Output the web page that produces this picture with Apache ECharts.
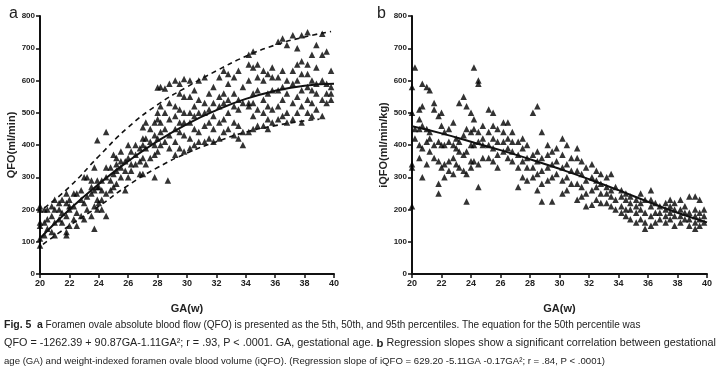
<!DOCTYPE html>
<html><head><meta charset="utf-8">
<script src="https://cdn.jsdelivr.net/npm/echarts@6/dist/echarts.min.js"></script>
<style>html,body{margin:0;padding:0;background:#fff}#c{width:720px;height:386px}</style>
</head><body><div id="c"></div>
<script>
// Tick labels
const xTicks = [20,22,24,26,28,30,32,34,36,38,40];
const yTicks = [0,100,200,300,400,500,600,700,800];

// Panel a: QFO scatter, grouped by GA (weeks) -> observed values
const qfoPoints = [
 [20.0,[88,110,150,160,200,210]],[20.3,[120,160,200]],[20.5,[140,170,200]],[20.8,[130,180,210]],[21.0,[120,160,200,230]],
 [21.3,[170,200,220]],[21.5,[160,190,230]],[21.8,[120,130,180,220,250]],[22.0,[150,200,210,230]],
 [22.3,[170,210,250]],[22.5,[150,190,250]],[22.8,[180,230,260]],[23.0,[170,220,300]],
 [23.2,[200,240,300]],[23.5,[180,250,270,290]],[23.7,[140,210,260,330]],[23.9,[200,230,270,290,415]],[24.0,[220,270]],
 [24.2,[200,230,260,290]],[24.5,[180,250,300,330,440]],[24.8,[260,290,330]],[25.0,[270,310,370]],
 [25.2,[280,320,340,360]],[25.5,[300,330,350,380]],[25.8,[260,320,350]],[26.0,[300,360,400]],
 [26.2,[320,340,380]],[26.5,[340,370,400]],[26.8,[310,350,390]],[27.0,[310,360,400,420,455]],
 [27.2,[340,390,420,470]],[27.5,[360,410,450]],[27.8,[300,370,400,430,470]],[28.0,[380,420,480,500,578]],
 [28.2,[400,440,470,520,580]],[28.5,[410,450,500,575]],[28.7,[290]],[28.8,[390,430,480,530,590]],
 [29.2,[370,410,450,490,520,600]],[29.5,[390,440,470,510,560,590]],[29.8,[380,430,470,500,550,605]],
 [30.2,[390,420,470,500,550,600]],[30.5,[400,450,490,520,570]],[30.8,[410,440,500,540,600]],
 [31.2,[410,460,500,530,610]],[31.5,[420,470,510,560]],[31.8,[410,450,490,530,580]],
 [32.2,[420,470,520,550,610]],[32.5,[440,480,530,560,630]],[32.8,[450,500,540,590,620]],
 [33.2,[430,470,520,560,610]],[33.5,[420,460,510,540,630]],[33.8,[400,440,530,580]],
 [34.2,[440,520,530,600,650,680]],[34.5,[450,490,530,560,640,690]],[34.8,[460,510,570,610,650]],
 [35.2,[460,500,540,600,630]],[35.5,[450,480,520,560,620]],[35.8,[470,510,570,610,640]],
 [36.2,[480,520,570,610,720]],[36.5,[490,540,580,630,730]],[36.8,[470,500,560,600,710]],
 [37.2,[480,530,590,630,740]],[37.5,[500,550,600,650,700]],[37.8,[470,520,570,620,660,740]],
 [38.2,[500,540,580,620,650,750]],[38.5,[490,530,570,600,680]],[38.8,[510,560,590,640,710]],
 [39.2,[490,540,600,680,745]],[39.5,[530,560,590,690]],[39.8,[540,560,580,630]]
];
// Percentile curves
const qfoP50 = [[20,111],[22,200],[24,279],[26,350],[28,412],[30,465],[32,508],[34,543],[36,568],[38,584],[40,590]];
const qfoP95 = [[20.3,205],[22,270],[24,365],[26,455],[28,525],[30,580],[32,630],[34,675],[36,710],[38,735],[39.8,752]];
const qfoP5  = [[20.2,92],[22,150],[24,210],[26,275],[28,330],[30,375],[32,410],[34,440],[36,460],[38,475],[39,480]];

// Panel b: iQFO scatter
const iqfoPoints = [
 [20.0,[210,330,340,500,580]],[20.2,[420,450,640]],[20.5,[360,400,450,480,510]],[20.7,[300,390,460,520,590]],[21.0,[340,410,450,580]],
 [21.2,[380,420,440,570]],[21.5,[360,400,510,530]],[21.8,[250,280,350,410,490]],[22.0,[330,400,460,500]],
 [22.2,[300,340,400,440]],[22.5,[320,350,410,450]],[22.8,[310,360,400,470]],[23.0,[340,390,420]],
 [23.2,[330,380,410,530]],[23.5,[320,370,430,550]],[23.7,[225,310,380,450,520]],[24.0,[330,350,400,440,500]],
 [24.2,[350,400,450,480,640]],[24.5,[270,340,410,440,590,600]],[24.8,[360,400,420,460]],
 [25.2,[360,400,440,510]],[25.5,[350,390,420,460,500]],[25.8,[330,370,410,450]],
 [26.2,[380,410,440,470]],[26.5,[360,390,420,470]],[26.8,[350,380,410,440]],
 [27.2,[270,330,370,410]],[27.5,[300,350,390,420]],[27.8,[290,330,360,400]],
 [28.2,[300,330,370,500]],[28.5,[260,310,350,380,520]],[28.8,[225,280,320,360,440]],
 [29.2,[290,330,370,400]],[29.5,[225,300,340,380]],[29.8,[310,350,390]],
 [30.2,[250,290,330,370,420]],[30.5,[260,300,340,400]],[30.8,[280,320,360]],
 [31.2,[230,280,320,360,390]],[31.5,[240,270,310,350]],[31.8,[210,250,290,330]],
 [32.2,[215,260,300,340]],[32.5,[230,270,290,320]],[32.8,[220,250,280,310]],
 [33.2,[220,250,270,300]],[33.5,[210,240,260,310]],[33.8,[200,230,270]],
 [34.2,[190,210,240,260]],[34.5,[180,200,230,250]],[34.8,[170,200,220,240]],
 [35.2,[160,190,210,230]],[35.5,[170,200,220,250]],[35.8,[140,160,190,230]],
 [36.2,[150,180,210,230,260]],[36.5,[160,190,220]],[36.8,[170,190,210]],
 [37.2,[160,180,200,220]],[37.5,[170,190,210,230]],[37.8,[150,180,200,220]],
 [38.2,[160,180,200,230]],[38.5,[170,190,210]],[38.8,[150,170,190,240]],
 [39.2,[140,160,180,200,240]],[39.5,[150,170,190,230]],[39.8,[160,180,200]]
];
const iqfoFit = [[20,458],[22,436],[24,410],[26,384],[28,356],[30,326],[32,294],[34,260],[36,224],[38,190],[40,160]];

// Caption lines
const captionLines = [
 '{b|Fig. 5}  {b|a} Foramen ovale absolute blood flow (QFO) is presented as the 5th, 50th, and 95th percentiles. The equation for the 50th percentile was',
 'QFO = -1262.39 + 90.87GA-1.11GA²; r = .93, P < .0001. GA, gestational age. {b|b} Regression slopes show a significant correlation between gestational',
 'age (GA) and weight-indexed foramen ovale blood volume (iQFO). (Regression slope of iQFO = 629.20 -5.11GA -0.17GA²; r = .84, P < .0001)'
];
const captionSize = [10, 10.8, 9.6];

function flat(rows){const o=[];rows.forEach(r=>r[1].forEach(v=>o.push([r[0],v])));return o;}

const NARROW = '"Liberation Sans Narrow","Arial Narrow","Liberation Sans",sans-serif';
function xAx(i){return {type:'value',gridIndex:i,min:20,max:40,interval:2,
  name:'GA(w)',nameLocation:'middle',nameGap:29,
  nameTextStyle:{color:'#222',fontFamily:NARROW,fontSize:11,fontWeight:'bold'},
  axisLine:{lineStyle:{color:'#111',width:2}},axisTick:{length:4,lineStyle:{color:'#111',width:1.5}},
  axisLabel:{color:'#222',fontFamily:NARROW,fontSize:9,fontWeight:'bold',margin:5},splitLine:{show:false}};}
function yAx(i,name,gap){return {type:'value',gridIndex:i,min:0,max:800,interval:100,
  name:name,nameLocation:'middle',nameGap:gap,
  nameTextStyle:{color:'#222',fontFamily:'"Liberation Sans",sans-serif',fontSize:11,fontWeight:'bold'},
  axisLine:{show:true,lineStyle:{color:'#111',width:2}},axisTick:{show:true,length:4,lineStyle:{color:'#111',width:1.5}},
  axisLabel:{color:'#222',fontFamily:NARROW,fontSize:8,fontWeight:'bold',margin:5},splitLine:{show:false}};}

const tri = {type:'scatter',symbol:'triangle',symbolSize:6.5,itemStyle:{color:'#000'},silent:true};
const chart = echarts.init(document.getElementById('c'));
chart.setOption({
  animation:false,
  backgroundColor:'#fff',
  grid:[{left:40,right:386,top:16,bottom:112},{left:412,right:13,top:16,bottom:112}],
  xAxis:[xAx(0),xAx(1)],
  yAxis:[yAx(0,'QFO(ml/min)',21),yAx(1,'iQFO(ml/min/kg)',23)],
  series:[
    Object.assign({},tri,{xAxisIndex:0,yAxisIndex:0,data:flat(qfoPoints)}),
    {type:'line',xAxisIndex:0,yAxisIndex:0,data:qfoP50,smooth:true,showSymbol:false,lineStyle:{color:'#111',width:2},z:5},
    {type:'line',xAxisIndex:0,yAxisIndex:0,data:qfoP95,smooth:true,showSymbol:false,lineStyle:{color:'#111',width:1.6,type:[5,4]},z:5},
    {type:'line',xAxisIndex:0,yAxisIndex:0,data:qfoP5,smooth:true,showSymbol:false,lineStyle:{color:'#111',width:1.6,type:[5,4]},z:5},
    Object.assign({},tri,{xAxisIndex:1,yAxisIndex:1,data:flat(iqfoPoints)}),
    {type:'line',xAxisIndex:1,yAxisIndex:1,data:iqfoFit,smooth:true,showSymbol:false,lineStyle:{color:'#111',width:2},z:5}
  ],
  graphic:[
    {type:'text',left:9,top:6,style:{text:'a',font:'16px "Liberation Sans",sans-serif',fill:'#222'}},
    {type:'text',left:377,top:6,style:{text:'b',font:'16px "Liberation Sans",sans-serif',fill:'#222'}}
  ].concat(captionLines.map((t,i)=>({type:'text',left:4,top:320+i*18,
    style:{text:t,font:captionSize[i]+'px "Liberation Sans",sans-serif',fill:'#222',
      rich:{b:{fontWeight:'bold',fontFamily:'"Liberation Sans",sans-serif',fontSize:captionSize[i]+0.5,fill:'#222'}}}})))
});
</script></body></html>
